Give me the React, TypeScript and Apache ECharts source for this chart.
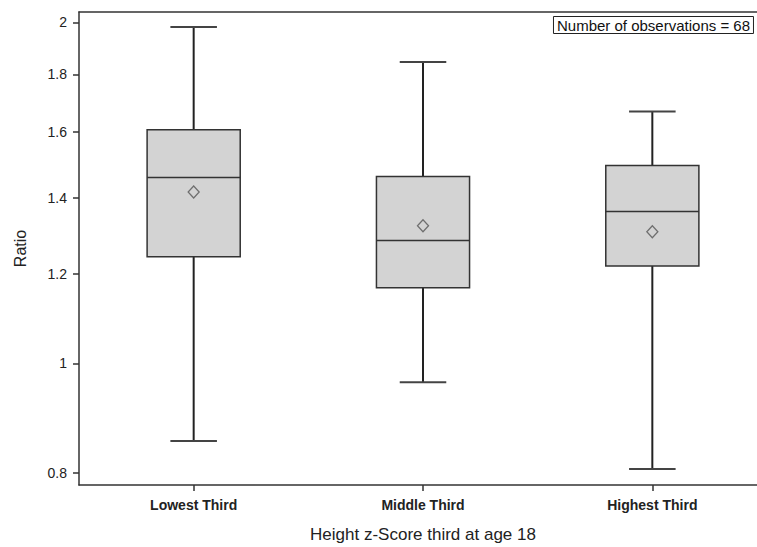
import React, { useEffect, useRef } from "react";
import * as echarts from "echarts";

const categories = ["Lowest Third", "Middle Third", "Highest Third"];
// [min, Q1, median, Q3, max]
const boxMin = [0.854, 0.9625, 0.807];
const boxQ1 = [1.242, 1.166, 1.219];
const boxMedian = [1.459, 1.284, 1.362];
const boxQ3 = [1.608, 1.462, 1.495];
const boxMax = [1.982, 1.846, 1.669];
const means = [1.417, 1.323, 1.307];
const yTicks = [0.8, 1, 1.2, 1.4, 1.6, 1.8, 2];
const yMinVal = 0.781;
const yMaxVal = 2.043;
const annotation = "Number of observations = 68";

const FONT = "'Liberation Sans', Arial, Helvetica, sans-serif";

export default function App() {
  const ref = useRef<HTMLDivElement>(null);
  useEffect(() => {
    if (!ref.current) return;
    document.body.style.margin = "0";
    document.body.style.overflow = "hidden";
    const chart = echarts.init(ref.current, undefined, { renderer: "svg" });
    const ln = Math.log;
    const boxData = categories.map((_, i) => [
      i,
      ln(boxMin[i]),
      ln(boxQ1[i]),
      ln(boxMedian[i]),
      ln(boxQ3[i]),
      ln(boxMax[i]),
    ]);
    const meanData = categories.map((_, i) => [i, ln(means[i])]);
    const tickVals = yTicks.map((v) => ln(v));
    const axisLineStyle = { color: "#333", width: 1.5 };

    chart.setOption({
      animation: false,
      title: {
        text: annotation,
        right: 26,
        top: 16,
        borderWidth: 1,
        borderColor: "#222",
        padding: [2, 4, 1, 4],
        textStyle: { fontFamily: FONT, fontSize: 15, fontWeight: "normal", color: "#111" },
      },
      grid: {
        left: 79,
        top: 12,
        right: 13,
        bottom: 62,
        show: false,
        containLabel: false,
        outerBoundsMode: "none",
      },
      xAxis: [
        {
          type: "category",
          data: categories,
          boundaryGap: true,
          position: "bottom",
          name: "Height z-Score third at age 18",
          nameLocation: "middle",
          nameGap: 41,
          nameTextStyle: { fontFamily: FONT, fontSize: 17, color: "#222" },
          axisLine: { show: true, onZero: false, lineStyle: axisLineStyle },
          axisTick: { show: true, alignWithLabel: true, length: 6, lineStyle: axisLineStyle },
          axisLabel: { fontFamily: FONT, fontSize: 14, fontWeight: "bold", color: "#222", margin: 13 },
          splitLine: { show: false },
        },
        {
          type: "category",
          data: categories,
          position: "top",
          axisLine: { show: true, onZero: false, lineStyle: axisLineStyle },
          axisTick: { show: false },
          axisLabel: { show: false },
          splitLine: { show: false },
        },
      ],
      yAxis: {
        type: "value",
        min: ln(yMinVal),
        max: ln(yMaxVal),
        name: "Ratio",
        nameLocation: "middle",
        nameGap: 51,
        nameRotate: 90,
        nameTextStyle: { fontFamily: FONT, fontSize: 16, color: "#222" },
        axisLine: { show: true, onZero: false, lineStyle: axisLineStyle },
        axisTick: {
          show: true,
          length: 6,
          customValues: tickVals,
          lineStyle: axisLineStyle,
        },
        axisLabel: {
          customValues: tickVals,
          fontFamily: FONT,
          fontSize: 14,
          color: "#222",
          margin: 12,
          formatter: (v: number) => String(+Math.exp(v).toFixed(1)),
        },
        splitLine: { show: false },
      },
      series: [
        {
          type: "custom",
          data: boxData,
          encode: { x: 0, y: [1, 2, 3, 4, 5] },
          renderItem: (params: any, api: any) => {
            const x = api.value(0);
            const pMin = api.coord([x, api.value(1)]);
            const pQ1 = api.coord([x, api.value(2)]);
            const pMed = api.coord([x, api.value(3)]);
            const pQ3 = api.coord([x, api.value(4)]);
            const pMax = api.coord([x, api.value(5)]);
            const band = api.size([1, 0])[0];
            const bw = band * 0.406;
            const cw = bw / 2;
            const cx = pMed[0];
            const lineStyle = { stroke: "#222", lineWidth: 2 };
            const capStyle = { stroke: "#444", lineWidth: 2 };
            return {
              type: "group",
              children: [
                { type: "line", shape: { x1: cx, y1: pMax[1], x2: cx, y2: pQ3[1] }, style: lineStyle },
                { type: "line", shape: { x1: cx, y1: pQ1[1], x2: cx, y2: pMin[1] }, style: lineStyle },
                { type: "line", shape: { x1: cx - cw / 2, y1: pMax[1], x2: cx + cw / 2, y2: pMax[1] }, style: capStyle },
                { type: "line", shape: { x1: cx - cw / 2, y1: pMin[1], x2: cx + cw / 2, y2: pMin[1] }, style: capStyle },
                {
                  type: "rect",
                  shape: { x: cx - bw / 2, y: pQ3[1], width: bw, height: pQ1[1] - pQ3[1] },
                  style: { fill: "#d3d3d3", stroke: "#333", lineWidth: 1.5 },
                },
                { type: "line", shape: { x1: cx - bw / 2, y1: pMed[1], x2: cx + bw / 2, y2: pMed[1] }, style: { stroke: "#333", lineWidth: 1.5 } },
              ],
            };
          },
          z: 2,
        },
        {
          type: "scatter",
          data: meanData,
          symbol: "diamond",
          symbolSize: [11, 12],
          itemStyle: { color: "#d3d3d3", borderColor: "#555", borderWidth: 1.3 },
          z: 3,
        },
      ],
    });
    return () => chart.dispose();
  }, []);
  return (
    <div style={{ position: "fixed", left: 0, top: 0, width: 757, height: 547, overflow: "hidden", background: "#fff" }}>
      <div ref={ref} style={{ width: 780, height: 547 }} />
    </div>
  );
}
